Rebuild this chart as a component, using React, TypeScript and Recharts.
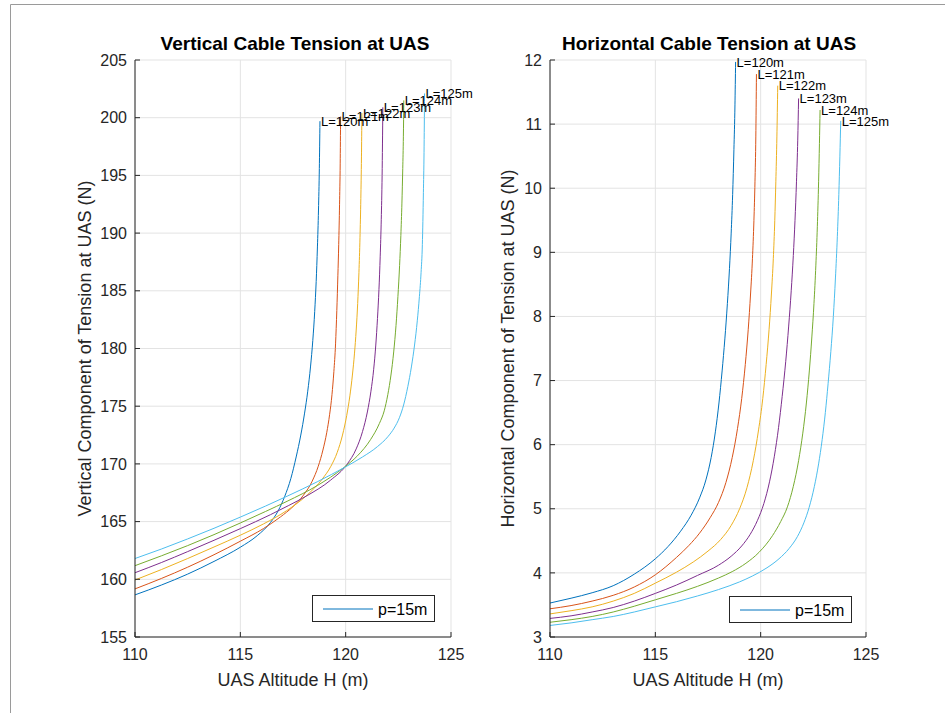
import React from 'react';
import { LineChart, Line, XAxis, YAxis, CartesianGrid, ReferenceDot } from 'recharts';

// ---------- data ----------
const lengths = ['L=120m', 'L=121m', 'L=122m', 'L=123m', 'L=124m', 'L=125m'];
const colors = ['#0072BD', '#D95319', '#EDB120', '#7E2F8E', '#77AC30', '#4DBEEE'];

const xTicks = [110, 115, 120, 125];
const vTicks = [155, 160, 165, 170, 175, 180, 185, 190, 195, 200, 205];
const hTicks = [3, 4, 5, 6, 7, 8, 9, 10, 11, 12];

// Vertical component [H, V]
const vert120: [number, number][] = [
  [110, 158.65], [111.25, 159.5], [112.5, 160.45], [113.75, 161.55], [115, 162.78], [115.8, 163.78],
  [116.43, 164.92], [116.8, 165.95], [117.1, 167.15], [117.4, 168.75], [117.65, 170.6], [117.87, 172.5],
  [118.05, 174.4], [118.2, 176.3], [118.33, 178.4], [118.44, 180.7], [118.53, 183.2], [118.6, 185.8],
  [118.66, 188.8], [118.71, 192.0], [118.75, 195.6], [118.78, 199.7],
];
const vert121: [number, number][] = [
  [110, 159.17], [111.25, 160.07], [112.5, 161.05], [113.75, 162.13], [115, 163.3], [116.1, 164.4],
  [116.9, 165.4], [117.5, 166.3], [118.0, 167.3], [118.41, 168.5], [118.7, 169.8], [118.92, 171.2],
  [119.1, 172.7], [119.24, 174.3], [119.35, 176.0], [119.44, 178.0], [119.52, 180.4], [119.58, 183.3],
  [119.63, 186.3], [119.67, 189.0], [119.71, 192.5], [119.74, 196.0], [119.76, 200.1],
];
const vert122: [number, number][] = [
  [110, 159.94], [111.25, 160.84], [112.5, 161.8], [113.75, 162.8], [115, 163.82], [116.1, 164.8],
  [117.2, 165.95], [118.17, 167.3], [118.89, 168.69], [119.3, 169.8], [119.6, 171.0], [119.85, 172.5],
  [120.05, 174.2], [120.2, 175.9], [120.32, 177.7], [120.42, 179.6], [120.5, 181.6], [120.57, 183.9],
  [120.63, 186.6], [120.68, 189.6], [120.72, 193.0], [120.75, 196.6], [120.77, 200.4],
];
const vert123: [number, number][] = [
  [110, 160.57], [111.25, 161.45], [112.5, 162.4], [113.75, 163.38], [115, 164.39], [116.43, 165.6],
  [117.3, 166.4], [118.17, 167.25], [119.29, 168.6], [120.08, 170.0], [120.5, 171.3], [120.8, 172.8],
  [121.03, 174.5], [121.2, 176.3], [121.33, 178.2], [121.43, 180.3], [121.51, 182.6], [121.58, 185.1],
  [121.64, 188.0], [121.69, 191.2], [121.73, 195.0], [121.765, 200.9],
];
const vert124: [number, number][] = [
  [110, 161.18], [111.25, 162.03], [112.5, 162.92], [113.75, 163.87], [115, 164.88], [116.2, 165.88],
  [117.22, 166.76], [118.65, 168.12], [119.92, 169.69], [120.56, 170.7], [121.19, 172.13], [121.6, 173.5],
  [121.83, 174.6], [122.0, 176.0], [122.15, 177.7], [122.28, 179.7], [122.39, 182.0], [122.48, 184.5],
  [122.56, 187.2], [122.62, 189.8], [122.67, 192.6], [122.71, 195.6], [122.74, 198.4], [122.76, 201.5],
];
const vert125: [number, number][] = [
  [110, 161.8], [111.25, 162.62], [112.5, 163.5], [113.75, 164.42], [115, 165.39], [116.2, 166.35],
  [117.22, 167.2], [118.65, 168.45], [120.0, 169.75], [120.8, 170.6], [121.51, 171.5], [122.0, 172.35],
  [122.3, 173.1], [122.55, 174.0], [122.75, 175.1], [122.95, 176.7], [123.12, 178.4], [123.27, 180.3],
  [123.4, 182.4], [123.5, 184.5], [123.58, 186.6], [123.64, 189.0], [123.69, 193.5], [123.72, 197.0],
  [123.745, 202.1],
];

// Horizontal component [H, T]
const horz120: [number, number][] = [
  [110, 3.53], [111, 3.605], [112, 3.69], [113, 3.8], [114, 3.98], [115, 4.22], [115.6, 4.41],
  [116.2, 4.65], [116.7, 4.9], [117.1, 5.17], [117.4, 5.45], [117.65, 5.8], [117.85, 6.2],
  [118.02, 6.65], [118.17, 7.15], [118.3, 7.65], [118.42, 8.2], [118.52, 8.75], [118.6, 9.3],
  [118.67, 9.9], [118.73, 10.6], [118.78, 11.3], [118.81, 11.97],
];
const horz121: [number, number][] = [
  [110, 3.44], [111, 3.49], [112, 3.56], [113, 3.65], [114, 3.78], [115, 3.97], [116, 4.24],
  [116.6, 4.43], [117.1, 4.62], [117.6, 4.86], [118.0, 5.1], [118.35, 5.41], [118.65, 5.8],
  [118.9, 6.25], [119.1, 6.72], [119.27, 7.25], [119.41, 7.8], [119.52, 8.35], [119.61, 8.9],
  [119.68, 9.5], [119.73, 10.1], [119.77, 10.8], [119.8, 11.78],
];
const horz122: [number, number][] = [
  [110, 3.36], [111, 3.41], [112, 3.47], [113, 3.56], [114, 3.68], [115, 3.84], [116, 4.01],
  [116.8, 4.17], [117.5, 4.34], [118.1, 4.52], [118.6, 4.74], [119.0, 5.0], [119.35, 5.33],
  [119.65, 5.75], [119.9, 6.23], [120.1, 6.72], [120.26, 7.25], [120.4, 7.8], [120.51, 8.35],
  [120.6, 8.9], [120.67, 9.5], [120.72, 10.1], [120.77, 10.8], [120.81, 11.6],
];
const horz123: [number, number][] = [
  [110, 3.29], [111, 3.33], [112, 3.39], [113, 3.46], [114, 3.56], [115, 3.68], [116, 3.81],
  [117, 3.96], [118, 4.12], [118.6, 4.26], [119.1, 4.42], [119.5, 4.6], [119.85, 4.82],
  [120.15, 5.08], [120.42, 5.42], [120.65, 5.82], [120.85, 6.27], [121.02, 6.75], [121.19, 7.3],
  [121.33, 7.85], [121.45, 8.4], [121.55, 8.95], [121.63, 9.5], [121.7, 10.1], [121.76, 10.75],
  [121.8, 11.4],
];
const horz124: [number, number][] = [
  [110, 3.23], [111, 3.27], [112, 3.32], [113, 3.39], [114, 3.48], [115, 3.58], [116, 3.68],
  [117, 3.79], [118, 3.92], [118.65, 4.02], [119.3, 4.15], [119.92, 4.32], [120.56, 4.58],
  [120.95, 4.8], [121.27, 5.03], [121.55, 5.35], [121.8, 5.75], [122.0, 6.18], [122.17, 6.65],
  [122.31, 7.15], [122.43, 7.68], [122.53, 8.2], [122.62, 8.8], [122.69, 9.4], [122.75, 10.1],
  [122.79, 10.7], [122.82, 11.22],
];
const horz125: [number, number][] = [
  [110, 3.18], [111, 3.22], [112, 3.27], [113, 3.32], [114, 3.39], [115, 3.47], [116, 3.55],
  [117, 3.64], [118, 3.74], [119, 3.86], [119.6, 3.95], [120.3, 4.08], [120.87, 4.22],
  [121.35, 4.38], [121.75, 4.57], [122.05, 4.78], [122.3, 5.02], [122.55, 5.35], [122.75, 5.7],
  [122.92, 6.08], [123.07, 6.5], [123.2, 6.95], [123.33, 7.45], [123.45, 8.0], [123.55, 8.6],
  [123.64, 9.25], [123.71, 9.9], [123.76, 10.5], [123.8, 11.05],
];

const vertSeries = [vert120, vert121, vert122, vert123, vert124, vert125];
const horzSeries = [horz120, horz121, horz122, horz123, horz124, horz125];

const FONT = '"Liberation Sans", Arial, Helvetica, sans-serif';
const AXIS = '#262626';
const GRID = '#e3e3e3';

const toRows = (s: [number, number][]) => s.map(([h, v]) => ({ h, v }));

type PanelProps = {
  series: [number, number][][];
  yDomain: [number, number];
  yTicks: number[];
  width: number;
  margin: { top: number; right: number; bottom: number; left: number };
};

function Panel({ series, yDomain, yTicks, width, margin }: PanelProps) {
  const tickStyle = { fontSize: 16, fill: AXIS, fontFamily: FONT };
  return (
    <LineChart width={width} height={713} margin={margin}>
      <CartesianGrid stroke={GRID} strokeWidth={1} />
      <XAxis
        dataKey="h"
        type="number"
        domain={[110, 125]}
        ticks={xTicks}
        allowDataOverflow
        height={30}
        tickSize={-5}
        tickMargin={17}
        tick={tickStyle}
        stroke={AXIS}
        interval={0}
      />
      <XAxis
        xAxisId="top"
        orientation="top"
        type="number"
        domain={[110, 125]}
        ticks={xTicks}
        allowDataOverflow
        height={0}
        tickSize={-5}
        tick={false}
        stroke={AXIS}
      />
      <YAxis
        type="number"
        domain={yDomain}
        ticks={yTicks}
        allowDataOverflow
        width={60}
        tickSize={-5}
        tickMargin={13}
        tick={tickStyle}
        stroke={AXIS}
        interval={0}
      />
      <YAxis
        yAxisId="right"
        orientation="right"
        type="number"
        domain={yDomain}
        ticks={yTicks}
        allowDataOverflow
        width={0}
        tickSize={-5}
        tick={false}
        stroke={AXIS}
      />
      {series.map((s, i) => (
        <Line
          key={lengths[i]}
          data={toRows(s)}
          dataKey="v"
          type="monotone"
          stroke={colors[i]}
          strokeWidth={1}
          dot={false}
          activeDot={false}
          isAnimationActive={false}
        />
      ))}
      {series.map((s, i) => (
        <ReferenceDot
          key={'lab' + i}
          x={s[s.length - 1][0]}
          y={s[s.length - 1][1]}
          r={0}
          fill="none"
          stroke="none"
          ifOverflow="visible"
          label={{
            value: lengths[i],
            position: 'right',
            offset: 1,
            fontSize: 13,
            fill: '#000',
            fontFamily: FONT,
          }}
        />
      ))}
    </LineChart>
  );
}

function LegendBox({ left, top }: { left: number; top: number }) {
  return (
    <div
      style={{
        position: 'absolute',
        left,
        top,
        width: 121,
        height: 25,
        border: '1px solid #262626',
        background: '#fff',
        fontFamily: FONT,
        fontSize: 16,
        color: '#000',
      }}
    >
      <svg width={121} height={25} style={{ position: 'absolute', left: 0, top: 0 }}>
        <line x1={10} x2={60} y1={13} y2={13} stroke={colors[0]} strokeWidth={1} />
        <text x={65} y={19} fontSize={16} fontFamily={FONT} fill="#000">
          p=15m
        </text>
      </svg>
    </div>
  );
}

export default function App() {
  return (
    <div
      style={{
        position: 'absolute',
        left: 0,
        top: 0,
        width: 945,
        height: 713,
        background: '#fff',
        overflow: 'hidden',
        fontFamily: FONT,
      }}
    >
      <svg width={945} height={713} style={{ position: 'absolute', left: 0, top: 0 }}>
        <line x1={10.5} y1={4.5} x2={945} y2={4.5} stroke="#9a9a9a" strokeWidth={1} />
        <line x1={10.5} y1={4.5} x2={10.5} y2={713} stroke="#9a9a9a" strokeWidth={1} />
      </svg>
      <div style={{ position: 'absolute', left: 0, top: 0 }}>
        <Panel
          series={vertSeries}
          yDomain={[155, 205]}
          yTicks={vTicks}
          width={500}
          margin={{ top: 60, right: 49, bottom: 46, left: 75 }}
        />
      </div>
      <div style={{ position: 'absolute', left: 470, top: 0 }}>
        <Panel
          series={horzSeries}
          yDomain={[3, 12]}
          yTicks={hTicks}
          width={475}
          margin={{ top: 60, right: 79, bottom: 46, left: 20 }}
        />
      </div>
      <LegendBox left={312} top={595} />
      <LegendBox left={729} top={596} />
      <svg
        width={945}
        height={713}
        style={{ position: 'absolute', left: 0, top: 0, pointerEvents: 'none' }}
      >
        <text x={295} y={50} textAnchor="middle" fontSize={19} fontWeight="bold" fill="#000" fontFamily={FONT}>
          Vertical Cable Tension at UAS
        </text>
        <text x={709} y={50} textAnchor="middle" fontSize={19} fontWeight="bold" fill="#000" fontFamily={FONT}>
          Horizontal Cable Tension at UAS
        </text>
        <text x={293} y={686} textAnchor="middle" fontSize={18} fill={AXIS} fontFamily={FONT}>
          UAS Altitude H (m)
        </text>
        <text x={708} y={686} textAnchor="middle" fontSize={18} fill={AXIS} fontFamily={FONT}>
          UAS Altitude H (m)
        </text>
        <text
          x={0}
          y={0}
          transform="translate(91,348.5) rotate(-90)"
          textAnchor="middle"
          fontSize={18}
          fill={AXIS}
          fontFamily={FONT}
        >
          Vertical Component of Tension at UAS (N)
        </text>
        <text
          x={0}
          y={0}
          transform="translate(514,348.5) rotate(-90)"
          textAnchor="middle"
          fontSize={18}
          fill={AXIS}
          fontFamily={FONT}
        >
          Horizontal Component of Tension at UAS (N)
        </text>
      </svg>
    </div>
  );
}
